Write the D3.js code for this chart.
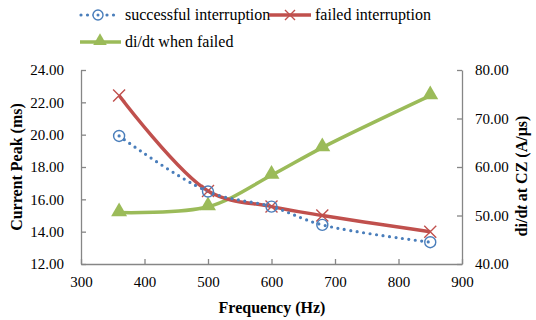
<!DOCTYPE html>
<html>
<head>
<meta charset="utf-8">
<script src="https://d3js.org/d3.v7.min.js"></script>
</head>
<body style="margin:0">
<script>
// data
var freq = [360, 500, 600, 680, 850];
var successful = [19.92, 16.48, 15.55, 14.42, 13.35];
var failed = [22.42, 16.52, 15.55, 15.0, 14.0];
var didt = [50.6, 51.8, 58.3, 64.0, 74.7];
var xTicks = [300, 400, 500, 600, 700, 800, 900];
var leftTicks = [12, 14, 16, 18, 20, 22, 24];
var rightTicks = [40, 50, 60, 70, 80];

var W = 536, H = 320;
var margin = {top: 70, right: 74, bottom: 56, left: 81};
var width = W - margin.left - margin.right,
    height = H - margin.top - margin.bottom;

var svg = d3.select("body").append("svg")
  .attr("width", W).attr("height", H);
var g = svg.append("g")
  .attr("transform", "translate(" + margin.left + "," + margin.top + ")");

var x = d3.scaleLinear().domain([300, 900]).range([0, width]);
var yL = d3.scaleLinear().domain([12, 24]).range([height, 0]);
var yR = d3.scaleLinear().domain([40, 80]).range([height, 0]);

var axisColor = "#868686";

// axes, ticks pointing inside
var xAxis = g.append("g").attr("transform", "translate(0," + height + ")")
  .call(d3.axisBottom(x).tickValues(xTicks).tickSizeInner(-5).tickSizeOuter(0).tickPadding(12));
var lAxis = g.append("g")
  .call(d3.axisLeft(yL).tickValues(leftTicks).tickFormat(d3.format(".2f")).tickSizeInner(-5).tickSizeOuter(0).tickPadding(17));
var rAxis = g.append("g").attr("transform", "translate(" + width + ",0)")
  .call(d3.axisRight(yR).tickValues(rightTicks).tickFormat(d3.format(".2f")).tickSizeInner(-5).tickSizeOuter(0).tickPadding(13));

[xAxis, lAxis, rAxis].forEach(function(a) {
  a.attr("font-family", null).attr("font-size", null);
  a.selectAll("path, line").attr("stroke", axisColor).attr("stroke-width", 1.3);
  a.selectAll("text").attr("fill", "#000").style("font-size", "15px");
});

var smooth = d3.curveCatmullRom.alpha(0.5);
var lineR = d3.line().x(function(d, i) { return x(freq[i]); }).y(function(d) { return yR(d); }).curve(smooth);
var lineL = d3.line().x(function(d, i) { return x(freq[i]); }).y(function(d) { return yL(d); }).curve(smooth);

g.append("path").datum(didt).attr("d", lineR)
  .attr("fill", "none").attr("stroke", "#9bbb59").attr("stroke-width", 3.5);
g.append("path").datum(failed).attr("d", lineL)
  .attr("fill", "none").attr("stroke", "#c0504d").attr("stroke-width", 3.5);
g.append("path").datum(successful).attr("d", lineL)
  .attr("fill", "none").attr("stroke", "#4a7ebb").attr("stroke-width", 3.2)
  .attr("stroke-dasharray", "0 6.5").attr("stroke-linecap", "round");

// markers
var tri = d3.symbol().type(d3.symbolTriangle).size(110);
g.selectAll(".tri").data(didt).enter().append("path")
  .attr("d", tri)
  .attr("transform", function(d, i) { return "translate(" + x(freq[i]) + "," + (yR(d) - 1) + ")"; })
  .attr("fill", "#9bbb59");

function cross(sel, cx, cy, s) {
  sel.append("path")
    .attr("d", "M" + (cx - s) + "," + (cy - s) + "L" + (cx + s) + "," + (cy + s) +
               "M" + (cx - s) + "," + (cy + s) + "L" + (cx + s) + "," + (cy - s))
    .attr("stroke", "#c0504d").attr("stroke-width", 1.4).attr("fill", "none");
}
failed.forEach(function(d, i) { cross(g, x(freq[i]), yL(d), 6); });

g.selectAll(".circ").data(successful).enter().append("circle")
  .attr("cx", function(d, i) { return x(freq[i]); })
  .attr("cy", function(d) { return yL(d); })
  .attr("r", 5.5)
  .attr("fill", "none").attr("stroke", "#4a7ebb").attr("stroke-width", 1.4);

// axis titles
function label(t) { return t.style("font-size", "16px").style("font-weight", "bold"); }
label(svg.append("text").attr("x", 272).attr("y", 313).attr("text-anchor", "middle")).text("Frequency (Hz)");
label(svg.append("text").attr("transform", "translate(22," + (margin.top + height / 2) + ") rotate(-90)")
  .attr("text-anchor", "middle")).text("Current Peak (ms)");
var rt = label(svg.append("text").attr("transform", "translate(527," + (margin.top + height / 2 + 9) + ") rotate(-90)")
  .attr("text-anchor", "middle"));
rt.append("tspan").text("di/d");
rt.append("tspan").style("font-style", "italic").text("t");
rt.append("tspan").text(" at CZ (A/\u00b5s)");

// legend
var leg = svg.append("g");
leg.append("line").attr("x1", 81).attr("x2", 115).attr("y1", 15).attr("y2", 15)
  .attr("stroke", "#4a7ebb").attr("stroke-width", 3.2).attr("stroke-dasharray", "0 6.5").attr("stroke-linecap", "round");
leg.append("circle").attr("cx", 98).attr("cy", 15).attr("r", 5).attr("fill", "#fff")
  .attr("stroke", "#4a7ebb").attr("stroke-width", 1.4);
leg.append("circle").attr("cx", 98).attr("cy", 15).attr("r", 1.5).attr("fill", "#4a7ebb");
leg.append("text").attr("x", 125).attr("y", 20).style("font-size", "16px").text("successful interruption");

leg.append("line").attr("x1", 269).attr("x2", 311).attr("y1", 15).attr("y2", 15)
  .attr("stroke", "#c0504d").attr("stroke-width", 3.5);
cross(leg, 290, 15, 5);
leg.append("text").attr("x", 315).attr("y", 20).style("font-size", "16px").text("failed interruption");

leg.append("line").attr("x1", 80).attr("x2", 121).attr("y1", 42).attr("y2", 42)
  .attr("stroke", "#9bbb59").attr("stroke-width", 3.5);
leg.append("path").attr("d", d3.symbol().type(d3.symbolTriangle).size(80))
  .attr("transform", "translate(100,41)").attr("fill", "#9bbb59");
leg.append("text").attr("x", 125).attr("y", 47).style("font-size", "16px").text("di/dt when failed");

// same font call as the font test page, applied to every text
svg.selectAll("text").style("font-family", "'Liberation Serif', monospace");
</script>
</body>
</html>
